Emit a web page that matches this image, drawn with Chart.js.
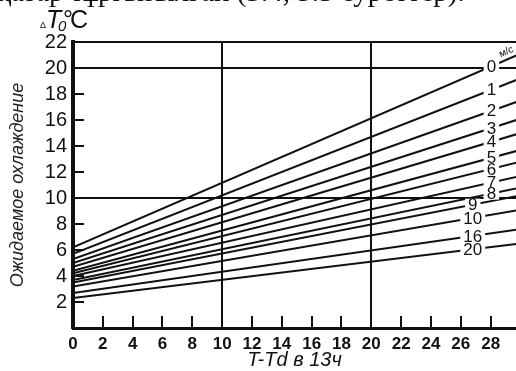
<!DOCTYPE html>
<html>
<head>
<meta charset="utf-8">
<script src="https://cdn.jsdelivr.net/npm/chart.js@4.4.1/dist/chart.umd.min.js"></script>
<style>
  html, body { margin: 0; padding: 0; background: #fff; }
  #wrap { position: relative; width: 516px; height: 371px; overflow: hidden; background: #fff; }
  #caption {
    position: absolute; left: -3px; top: -23px;
    font: 29px "Liberation Serif", "Times New Roman", serif; line-height: 29px;
    color: #111; white-space: nowrap;
  }
</style>
</head>
<body>
<div id="wrap">
  <canvas id="chart"></canvas>
  <div id="caption">қатар тұрғызылған (3.4, 3.5 суреттер).</div>
</div>
<script>
// скорость ветра, м/с (подписи линий)
const windSpeeds = ['0', '1', '2', '3', '4', '5', '6', '7', '8', '9', '10', '16', '20'];
// охлаждение при T-Td = 0 и при T-Td = 30
const coolingAtStart = [6.2, 5.7, 5.3, 5.0, 4.7, 4.4, 4.2, 4.0, 3.7, 3.5, 3.2, 2.7, 2.3];
const coolingAtEnd = [21.1, 19.2, 17.5, 16.1, 15.0, 13.7, 12.8, 11.7, 10.8, 10.2, 9.1, 7.6, 6.5];
const spreadRange = [0, 30];
// опорные линии
const guideX = [10, 20];
const guideY = [10, 20, 22];

const INK = '#111';
Chart.defaults.font.family = '"Liberation Sans", Arial, sans-serif';
Chart.defaults.color = INK;

const datasets = windSpeeds.map((speed, i) => ({
  label: speed,
  data: [
    { x: spreadRange[0], y: coolingAtStart[i] },
    { x: spreadRange[1], y: coolingAtEnd[i] },
  ],
  borderColor: INK,
  borderWidth: 2,
  pointRadius: 0,
  fill: false,
}));

// короткие засечки внутрь поля графика
const inwardTicks = {
  id: 'inwardTicks',
  afterDatasetsDraw(chart) {
    const { ctx, chartArea, scales } = chart;
    ctx.save();
    ctx.strokeStyle = INK;
    ctx.lineWidth = 2;
    scales.x.ticks.forEach((t) => {
      if (t.value === 0 || guideX.includes(t.value)) return;
      const px = Math.round(scales.x.getPixelForValue(t.value));
      ctx.beginPath();
      ctx.moveTo(px, chartArea.bottom);
      ctx.lineTo(px, chartArea.bottom - 12);
      ctx.stroke();
    });
    scales.y.ticks.forEach((t) => {
      if (t.value === 0 || guideY.includes(t.value)) return;
      const py = Math.round(scales.y.getPixelForValue(t.value));
      ctx.beginPath();
      ctx.moveTo(chartArea.left, py);
      ctx.lineTo(chartArea.left + 11, py);
      ctx.stroke();
    });
    ctx.restore();
  },
};

// подписи скоростей ветра на концах линий
const speedLabels = {
  id: 'speedLabels',
  afterDatasetsDraw(chart) {
    const { ctx, scales } = chart;
    ctx.save();
    ctx.font = '17px "Liberation Sans", Arial, sans-serif';
    ctx.textAlign = 'center';
    ctx.textBaseline = 'middle';
    chart.data.datasets.forEach((ds, i) => {
      const meta = chart.getDatasetMeta(i);
      const a = meta.data[0];
      const b = meta.data[1];
      const px = scales.x.getPixelForValue(i >= 9 ? 26.8 : 28.05);
      const py = a.y + ((px - a.x) / (b.x - a.x)) * (b.y - a.y);
      const w = ctx.measureText(ds.label).width;
      ctx.fillStyle = '#fff';
      ctx.fillRect(px - w / 2 - 3, py - 6, w + 6, 12);
      ctx.fillStyle = INK;
      ctx.fillText(ds.label, px, py + 1);
      if (i === 0) {
        // единица измерения над линией "0"
        const ux = scales.x.getPixelForValue(29.05);
        const uy = a.y + ((ux - a.x) / (b.x - a.x)) * (b.y - a.y) - 8;
        ctx.save();
        ctx.translate(ux, uy);
        ctx.rotate(Math.atan2(b.y - a.y, b.x - a.x));
        ctx.font = '10px "Liberation Sans", Arial, sans-serif';
        ctx.fillText('м/с', 0, 0);
        ctx.restore();
      }
    });
    ctx.restore();
  },
};

// обозначение оси ординат: ΔT0 °C
const unitLabel = {
  id: 'unitLabel',
  afterDraw(chart) {
    const { ctx } = chart;
    ctx.save();
    ctx.fillStyle = INK;
    ctx.textBaseline = 'alphabetic';
    ctx.font = '9px "Liberation Sans", Arial, sans-serif';
    ctx.fillText('Δ', 40, 28);
    ctx.font = 'italic 25px "Liberation Sans", Arial, sans-serif';
    ctx.fillText('T', 46, 28);
    ctx.font = 'italic 15px "Liberation Sans", Arial, sans-serif';
    ctx.fillText('0', 58, 31);
    ctx.font = '25px "Liberation Sans", Arial, sans-serif';
    ctx.fillText('°', 63, 28);
    ctx.fillText('C', 70, 28);
    ctx.restore();
  },
};

new Chart(document.getElementById('chart'), {
  type: 'line',
  data: { datasets },
  options: {
    responsive: true,
    maintainAspectRatio: false,
    animation: false,
    layout: { padding: { top: 42, left: 0, right: 0, bottom: 0 } },
    plugins: {
      legend: { display: false },
      tooltip: { enabled: false },
    },
    scales: {
      x: {
        type: 'linear',
        min: 0,
        max: 29.7,
        afterFit: (s) => { s.height = 43; },
        ticks: {
          stepSize: 2,
          includeBounds: false,
          autoSkip: false,
          maxRotation: 0,
          padding: 6,
          font: { size: 17, weight: 'bold' },
          color: INK,
        },
        grid: {
          drawTicks: false,
          lineWidth: 2,
          color: (c) => (c.tick && guideX.includes(c.tick.value) ? INK : 'transparent'),
        },
        border: { color: INK, width: 3 },
        title: {
          display: true,
          text: 'T-Td в 13ч',
          font: { size: 20, style: 'italic' },
          color: INK,
          padding: { top: 0, bottom: -1 },
        },
      },
      y: {
        min: 0,
        max: 22,
        afterFit: (s) => { s.width = 73; },
        ticks: {
          stepSize: 2,
          autoSkip: false,
          padding: 6,
          font: { size: 20 },
          color: INK,
          callback: (v) => (v === 0 ? '' : v),
        },
        grid: {
          drawTicks: false,
          lineWidth: 2,
          color: (c) => (c.tick && guideY.includes(c.tick.value) ? INK : 'transparent'),
        },
        border: { color: INK, width: 4 },
        title: {
          display: true,
          text: 'Ожидаемое охлаждение',
          font: { size: 18, style: 'italic' },
          color: '#222',
          padding: { top: 7, bottom: 0 },
        },
      },
    },
  },
  plugins: [inwardTicks, speedLabels, unitLabel],
});
</script>
</body>
</html>
